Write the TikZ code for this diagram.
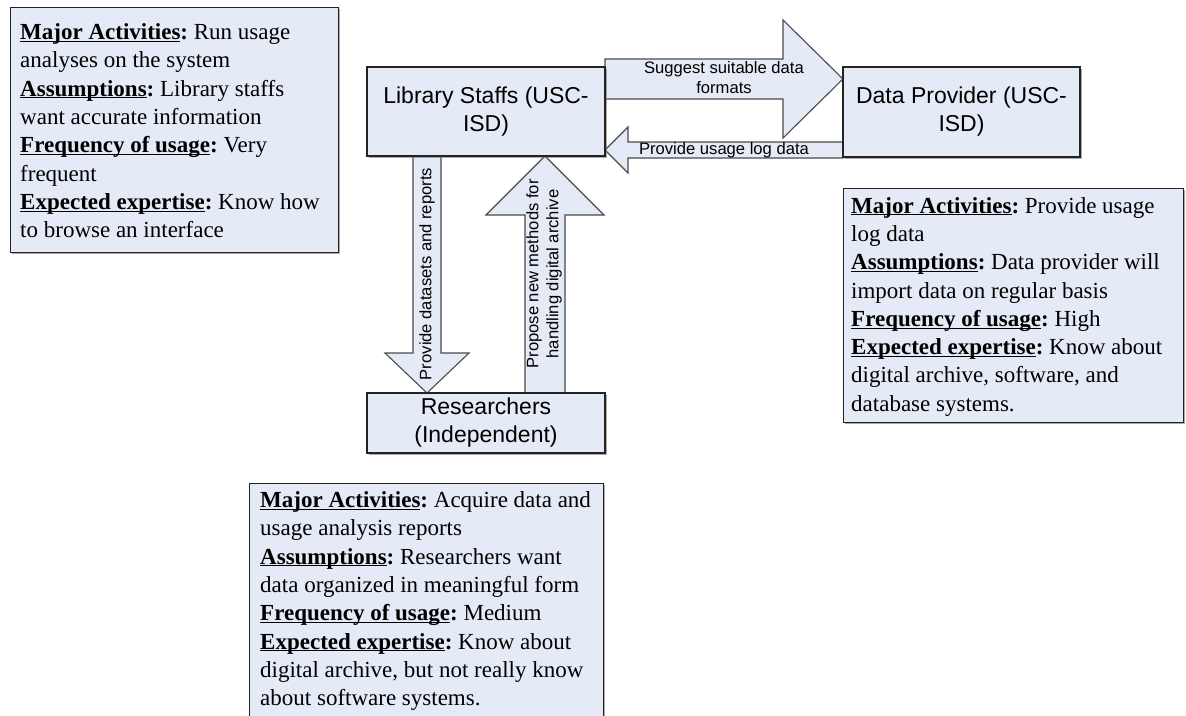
\documentclass[tikz,border=0pt]{standalone}
\usepackage{fontspec}
\setmainfont{Liberation Serif}
\newfontfamily\arialfont{Liberation Sans}
\usetikzlibrary{shadows}

\definecolor{boxfill}{RGB}{229,235,246}
\definecolor{edge}{RGB}{35,35,35}
\definecolor{arrowedge}{RGB}{75,75,75}

% bold, underlined field name followed by a colon
\newcommand\field[1]{\underline{\smash{\textbf{#1}}}\textbf{:}}
\frenchspacing

\begin{document}
\begin{tikzpicture}[x=1pt,y=-1pt,
  boxshadow/.style={drop shadow={shadow xshift=1.5pt,shadow yshift=-1.5pt,fill=black!55,opacity=0.6}},
  actor/.style={draw=edge,line width=1.3pt,fill=boxfill,boxshadow,align=center,
    font=\arialfont\fontsize{23}{28}\selectfont,inner sep=0pt},
  infobox/.style={draw=edge,line width=1.3pt,fill=boxfill,boxshadow,anchor=north west,inner sep=0pt},
  infotext/.style={align=left,anchor=west,inner sep=0pt,font=\fontsize{23}{28.3}\selectfont},
  blockarrow/.style={draw=arrowedge,line width=1.1pt,fill=boxfill,line join=miter},
  arrowlabel/.style={font=\arialfont\fontsize{16.6}{20}\selectfont,align=center,inner sep=0pt}]

\useasboundingbox (0,0) rectangle (1186,715);

% ---- block arrows between the actors ----
% Library Staffs -> Data Provider
\draw[blockarrow] (605,59) -- (783,59) -- (783,20) -- (843,79) -- (783,138) -- (783,99) -- (605,99) -- cycle;
% Data Provider -> Library Staffs
\draw[blockarrow] (843,142) -- (628,142) -- (628,127) -- (605,150) -- (628,173) -- (628,158) -- (843,158) -- cycle;
% Library Staffs -> Researchers
\draw[blockarrow] (413,156) -- (413,353) -- (385,353) -- (427,393) -- (469,353) -- (441,353) -- (441,156) -- cycle;
% Researchers -> Library Staffs
\draw[blockarrow] (525,393) -- (525,215) -- (486,215) -- (545,156) -- (604,215) -- (565,215) -- (565,393) -- cycle;

% ---- actors ----
\node[actor,minimum width=238,minimum height=89] (lib) at (486,111.5) {Library Staffs (USC-\\ISD)};
\node[actor,minimum width=237,minimum height=90] (dp) at (961.5,112) {Data Provider (USC-\\ISD)};
\node[actor,minimum width=238,minimum height=60] (res) at (486,423) {Researchers\\(Independent)};

% ---- arrow labels ----
\node[arrowlabel] (l1) at (724,78) {Suggest suitable data\\formats};
\node[arrowlabel] (l2) at (724,150) {Provide usage log data};
\node[arrowlabel,rotate=90] (l3) at (427,274) {Provide datasets and reports};
\node[arrowlabel,rotate=90] (l4) at (544,274) {Propose new methods for\\handling digital archive};

% ---- role descriptions ----
\node[infobox,minimum width=328,minimum height=245] (staffbox) at (10,7) {};
\node[infotext] (stafftext) at ([xshift=10pt,yshift=-1pt]staffbox.west) {%
\field{Major Activities} Run usage\\
analyses on the system\\
\field{Assumptions} Library staffs\\
want accurate information\\
\field{Frequency of usage} Very\\
frequent\\
\field{Expected expertise} Know how\\
to browse an interface};

\node[infobox,minimum width=340,minimum height=234] (provbox) at (843,188) {};
\node[infotext] (provtext) at ([xshift=8pt,yshift=-1pt]provbox.west) {%
\field{Major Activities} Provide usage\\
log data\\
\field{Assumptions} Data provider will\\
import data on regular basis\\
\field{Frequency of usage} High\\
\field{Expected expertise} Know about\\
digital archive, software, and\\
database systems.};

\node[infobox,minimum width=354,minimum height=233] (resbox) at (249,483) {};
\node[infotext] (restext) at ([xshift=11pt,yshift=-1pt]resbox.west) {%
\field{Major Activities} Acquire data and\\
usage analysis reports\\
\field{Assumptions} Researchers want\\
data organized in meaningful form\\
\field{Frequency of usage} Medium\\
\field{Expected expertise} Know about\\
digital archive, but not really know\\
about software systems.};

\end{tikzpicture}
\end{document}
